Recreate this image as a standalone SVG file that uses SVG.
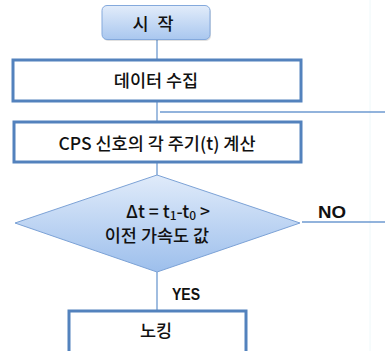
<svg xmlns="http://www.w3.org/2000/svg" width="385" height="351" viewBox="0 0 385 351">
<defs>
<linearGradient id="gStart" x1="0" y1="0" x2="0" y2="1">
<stop offset="0" stop-color="#e2ecfa"/>
<stop offset="1" stop-color="#a9c7ef"/>
</linearGradient>
<linearGradient id="gDia" x1="0" y1="0" x2="0" y2="1">
<stop offset="0" stop-color="#e0ebfa"/>
<stop offset="1" stop-color="#9dbfec"/>
</linearGradient>
</defs>
<style>
.box{fill:#fff;stroke:#5382bd;stroke-width:3}
.conn{stroke:#6e9ad0;stroke-width:1.3;fill:none}
.lbl{font-family:"Noto Sans CJK KR","Liberation Sans",sans-serif;font-size:17.5px;fill:#111;text-anchor:middle;font-weight:500}
.yn{font-family:"Liberation Sans","Noto Sans CJK KR",sans-serif;font-size:16px;font-weight:bold;fill:#111}
</style>
<rect width="385" height="351" fill="#fff"/>
<line x1="370" y1="0" x2="370" y2="351" stroke="#eef8fa" stroke-width="1"/>
<g id="connectors">
<line class="conn" x1="157" y1="40" x2="157" y2="59"/>
<line class="conn" x1="157" y1="101" x2="157" y2="122"/>
<line class="conn" x1="160" y1="112" x2="385" y2="112"/>
<line class="conn" x1="157" y1="163" x2="157" y2="176"/>
<line class="conn" x1="302" y1="222" x2="385" y2="222"/>
<line class="conn" x1="157" y1="272" x2="157" y2="310"/>
<text class="yn" x="318" y="218" textLength="28" lengthAdjust="spacingAndGlyphs">NO</text>
<text class="yn" x="172" y="300" textLength="28" lengthAdjust="spacingAndGlyphs">YES</text>
</g>
<g id="start">
<rect x="103" y="7" width="108" height="34" rx="5" fill="#000" opacity="0.12"/>
<rect x="102" y="5.5" width="108" height="34" rx="5" fill="url(#gStart)" stroke="#84a9dc" stroke-width="1"/>
<text class="lbl" x="153" y="30" font-weight="bold" word-spacing="5">시 작</text>
</g>
<g id="collect">
<rect class="box" x="13" y="60" width="288" height="41"/>
<text class="lbl" x="156" y="87">데이터 수집</text>
</g>
<g id="calc">
<rect class="box" x="14" y="122" width="287" height="40"/>
<text class="lbl" x="157" y="150">CPS 신호의 각 주기(t) 계산</text>
</g>
<g id="decision">
<polygon points="157,175 300,223 157,272 15,223" fill="url(#gDia)" stroke="#7ca2d6" stroke-width="1"/>
<text class="lbl" x="168" y="218" font-size="16">Δt = t<tspan font-size="12" dy="2">1</tspan><tspan dy="-2">-t</tspan><tspan font-size="12" dy="2">0</tspan><tspan dy="-2"> &gt;</tspan></text>
<text class="lbl" x="157" y="242">이전 가속도 값</text>
</g>
<g id="knocking">
<rect class="box" x="69" y="311" width="177" height="45"/>
<text class="lbl" x="156" y="337">노킹</text>
</g>
</svg>
